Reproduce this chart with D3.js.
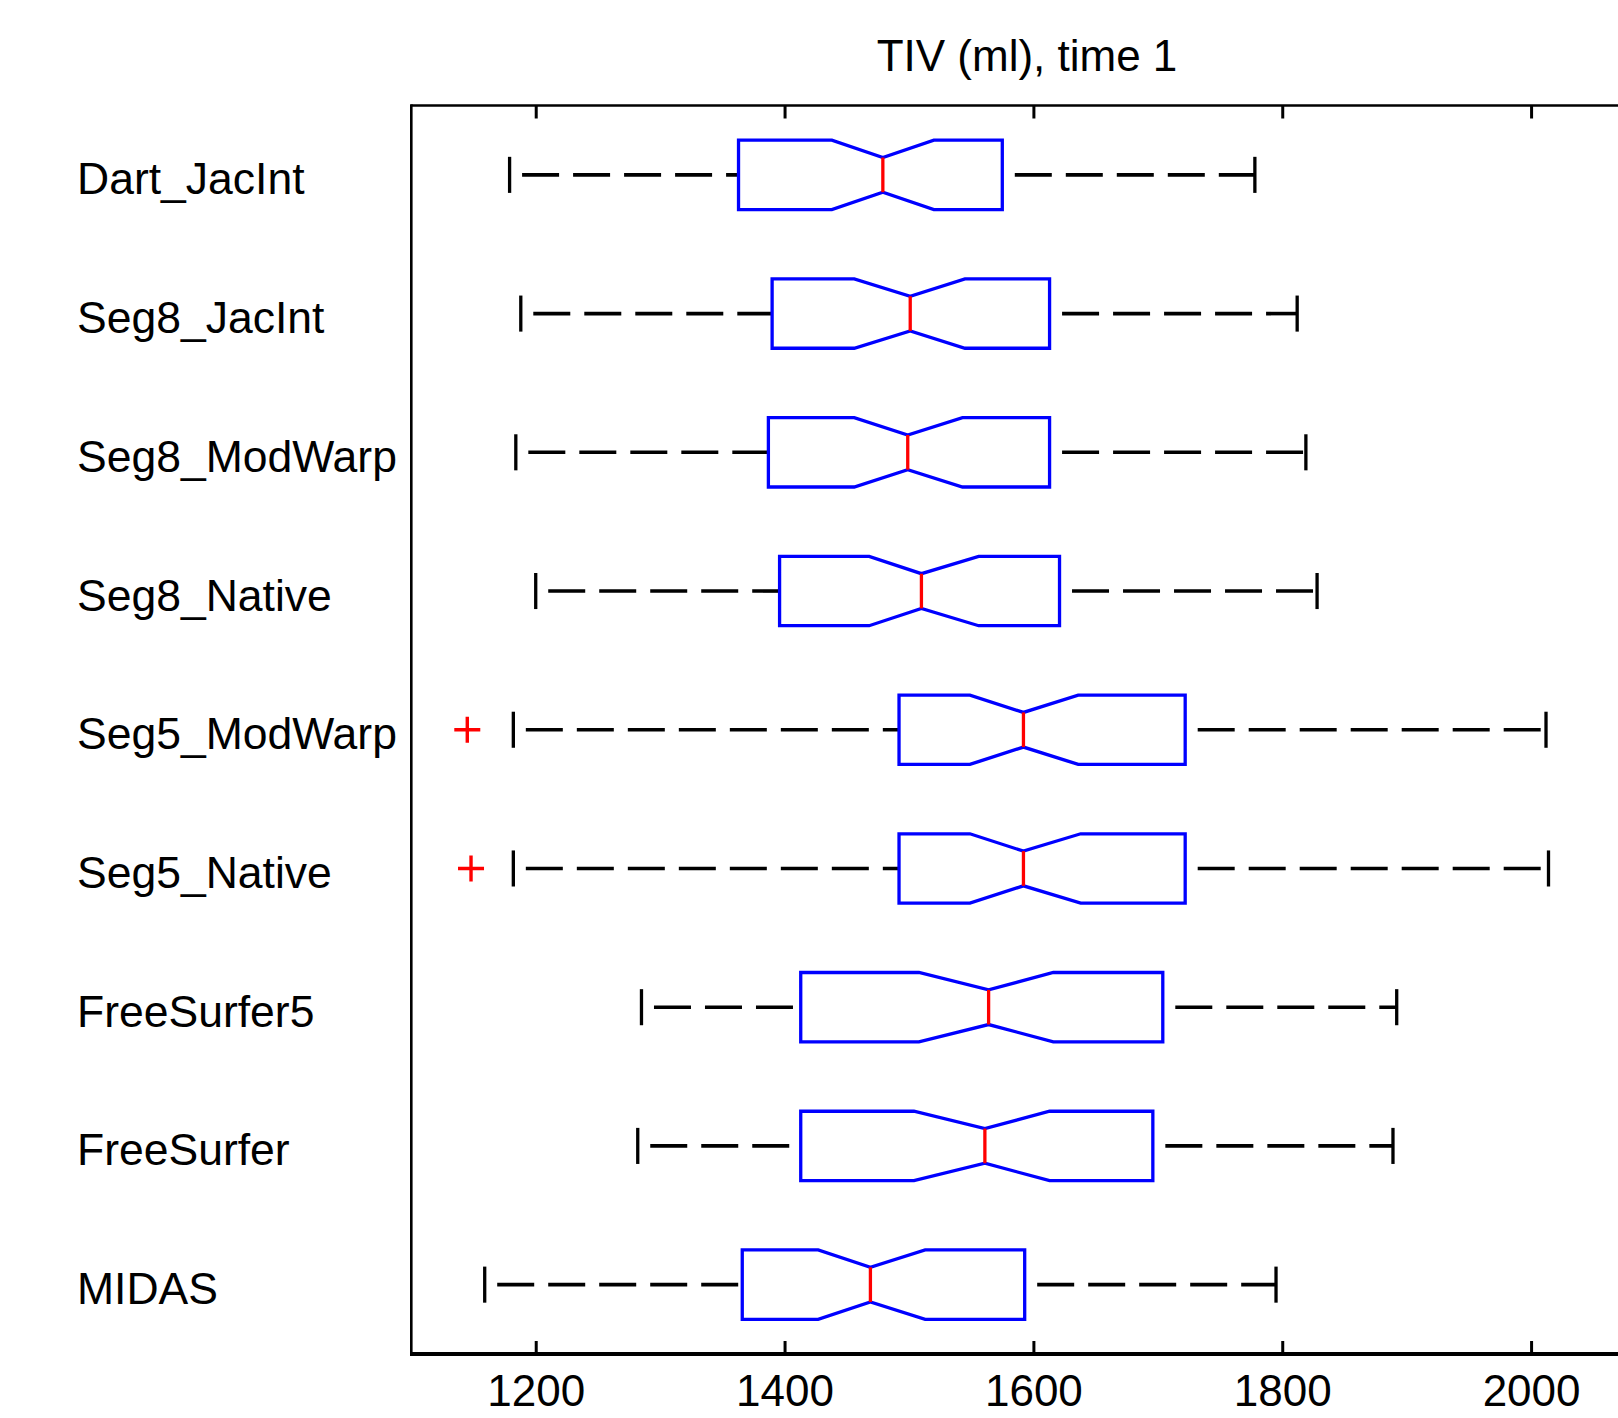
<!DOCTYPE html>
<html>
<head>
<meta charset="utf-8">
<title>TIV (ml), time 1</title>
<script src="https://cdn.jsdelivr.net/npm/d3@7"></script>
<style>
    html, body { margin: 0; padding: 0; background: #fff; }
    svg text { font-family: "Liberation Sans", Arial, Helvetica, sans-serif; fill: #000; }
</style>
</head>
<body>
<div id="chart"></div>
<script>
// Notched box plot - TIV (ml), time 1

const groups = ['Dart_JacInt', 'Seg8_JacInt', 'Seg8_ModWarp', 'Seg8_Native',
    'Seg5_ModWarp', 'Seg5_Native', 'FreeSurfer5', 'FreeSurfer', 'MIDAS'];

const lowerWhisker = [1179, 1188, 1184, 1200, 1182, 1182, 1285, 1282, 1159];
const q1Values     = [1363, 1390, 1387, 1396, 1492, 1492, 1413, 1413, 1366];
const notchLow     = [1438, 1456, 1456, 1468, 1549, 1549, 1508, 1504, 1427];
const medians      = [1479, 1501, 1499, 1510, 1592, 1592, 1564, 1561, 1469];
const notchHigh    = [1520, 1545, 1543, 1556, 1636, 1638, 1616, 1613, 1513];
const q3Values     = [1575, 1613, 1613, 1621, 1722, 1722, 1704, 1696, 1593];
const upperWhisker = [1778, 1812, 1819, 1828, 2012, 2014, 1892, 1889, 1795];

const outlierGroups = ['Seg5_ModWarp', 'Seg5_Native'];
const outlierValues = [1145, 1148];

const xTicks = [1200, 1400, 1600, 1800, 2000];
const xLimits = [1100, 2100];
const titleText = 'TIV (ml), time 1';

(function () {
    const W = 1618, H = 1418;
    const plot = { left: 411.3, top: 105.5, right: 1655.5, bottom: 1354 };

    const svg = d3.select('#chart').append('svg')
        .attr('width', W)
        .attr('height', H);

    const x = d3.scaleLinear().domain(xLimits).range([plot.left, plot.right]);
    const y = d3.scaleBand().domain(groups).range([plot.top, plot.bottom]).padding(0);
    const bw = y.bandwidth();
    const boxHalf = bw * 0.25;
    const notchHalf = boxHalf * 0.5;
    const capHalf = bw * 0.13;

    const rows = groups.map((g, i) => ({
        group: g,
        lo: lowerWhisker[i], q1: q1Values[i], nlo: notchLow[i], med: medians[i],
        nhi: notchHigh[i], q3: q3Values[i], hi: upperWhisker[i],
        cy: y(g) + bw / 2
    }));

    // title
    svg.append('text')
        .attr('x', 1027)
        .attr('y', 71)
        .attr('text-anchor', 'middle')
        .attr('font-size', 44)
        .text(titleText);

    // x axis ticks (inside, top and bottom)
    const xAxis = d3.axisBottom(x)
        .tickValues(xTicks)
        .tickSizeInner(-13)
        .tickSizeOuter(0)
        .tickPadding(0)
        .tickFormat(d3.format('d'));

    const bottomAxis = svg.append('g')
        .attr('transform', `translate(0,${plot.bottom})`)
        .call(xAxis);
    bottomAxis.select('.domain').remove();
    bottomAxis.selectAll('.tick line').attr('stroke', '#000').attr('stroke-width', 3);
    bottomAxis.selectAll('.tick text')
        .attr('font-size', 44)
        .attr('font-family', '"Liberation Sans", Arial, sans-serif')
        .attr('fill', '#000')
        .attr('dy', null)
        .attr('y', 52);

    const topAxis = svg.append('g')
        .attr('transform', `translate(0,${plot.top})`)
        .call(d3.axisTop(x).tickValues(xTicks).tickSizeInner(-13).tickSizeOuter(0).tickFormat(''));
    topAxis.select('.domain').remove();
    topAxis.selectAll('.tick line').attr('stroke', '#000').attr('stroke-width', 3);

    // frame
    svg.append('line')
        .attr('x1', plot.left).attr('x2', plot.right)
        .attr('y1', plot.top).attr('y2', plot.top)
        .attr('stroke', '#000').attr('stroke-width', 2.7);
    svg.append('line')
        .attr('x1', plot.left).attr('x2', plot.right)
        .attr('y1', plot.bottom).attr('y2', plot.bottom)
        .attr('stroke', '#000').attr('stroke-width', 4);
    svg.append('line')
        .attr('x1', plot.left).attr('x2', plot.left)
        .attr('y1', plot.top - 1.3).attr('y2', plot.bottom + 2)
        .attr('stroke', '#000').attr('stroke-width', 2.6);
    svg.append('line')
        .attr('x1', plot.right).attr('x2', plot.right)
        .attr('y1', plot.top).attr('y2', plot.bottom)
        .attr('stroke', '#000').attr('stroke-width', 2.6);

    // group labels, left aligned
    svg.append('g').selectAll('text')
        .data(rows)
        .join('text')
        .attr('x', 77)
        .attr('y', d => d.cy + 19.5)
        .attr('font-size', 44.5)
        .text(d => d.group);

    const g = svg.append('g');

    // whiskers (dashed), both drawn left to right
    g.selectAll('.whisker-lo')
        .data(rows)
        .join('line')
        .attr('class', 'whisker-lo')
        .attr('x1', d => x(d.lo)).attr('x2', d => x(d.q1))
        .attr('y1', d => d.cy).attr('y2', d => d.cy)
        .attr('stroke', '#000').attr('stroke-width', 3.6)
        .attr('stroke-dasharray', '37,14')
        .attr('stroke-dashoffset', 38.5);

    g.selectAll('.whisker-hi')
        .data(rows)
        .join('line')
        .attr('class', 'whisker-hi')
        .attr('x1', d => x(d.q3)).attr('x2', d => x(d.hi))
        .attr('y1', d => d.cy).attr('y2', d => d.cy)
        .attr('stroke', '#000').attr('stroke-width', 3.6)
        .attr('stroke-dasharray', '37,14')
        .attr('stroke-dashoffset', 38.5);

    // whisker caps
    ['lo', 'hi'].forEach(k => {
        g.selectAll('.cap-' + k)
            .data(rows)
            .join('line')
            .attr('class', 'cap-' + k)
            .attr('x1', d => x(d[k])).attr('x2', d => x(d[k]))
            .attr('y1', d => d.cy - capHalf).attr('y2', d => d.cy + capHalf)
            .attr('stroke', '#000').attr('stroke-width', 3.3);
    });

    // notched boxes
    g.selectAll('.box')
        .data(rows)
        .join('path')
        .attr('class', 'box')
        .attr('fill', 'none')
        .attr('stroke', '#0000ff')
        .attr('stroke-width', 3.3)
        .attr('d', d => {
            const pts = [
                [x(d.q1), d.cy - boxHalf], [x(d.nlo), d.cy - boxHalf],
                [x(d.med), d.cy - notchHalf], [x(d.nhi), d.cy - boxHalf],
                [x(d.q3), d.cy - boxHalf], [x(d.q3), d.cy + boxHalf],
                [x(d.nhi), d.cy + boxHalf], [x(d.med), d.cy + notchHalf],
                [x(d.nlo), d.cy + boxHalf], [x(d.q1), d.cy + boxHalf]
            ];
            return 'M' + pts.map(p => p.join(',')).join('L') + 'Z';
        });

    // medians
    g.selectAll('.median')
        .data(rows)
        .join('line')
        .attr('class', 'median')
        .attr('x1', d => x(d.med)).attr('x2', d => x(d.med))
        .attr('y1', d => d.cy - notchHalf).attr('y2', d => d.cy + notchHalf)
        .attr('stroke', '#ff0000').attr('stroke-width', 3.3);

    // outliers as red plus signs
    const plusHalf = 13;
    const outliers = outlierGroups.map((grp, i) => ({ cy: y(grp) + bw / 2, v: outlierValues[i] }));
    g.selectAll('.outlier')
        .data(outliers)
        .join('path')
        .attr('class', 'outlier')
        .attr('fill', 'none')
        .attr('stroke', '#ff0000')
        .attr('stroke-width', 3.4)
        .attr('d', d => {
            const cx = x(d.v);
            return `M${cx - plusHalf},${d.cy}H${cx + plusHalf}M${cx},${d.cy - plusHalf}V${d.cy + plusHalf}`;
        });
})();
</script>
</body>
</html>
